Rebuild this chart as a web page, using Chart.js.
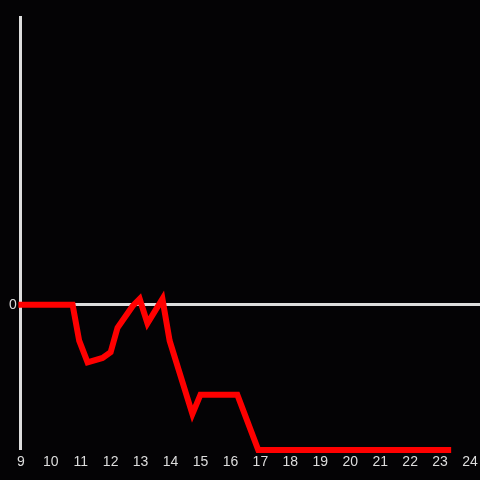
<!DOCTYPE html>
<html>
<head>
<meta charset="utf-8">
<script src="https://cdn.jsdelivr.net/npm/chart.js@4"></script>
<style>
html,body{margin:0;padding:0;background:#040305;}
#wrap{width:480px;height:480px;}
</style>
</head>
<body>
<div id="wrap"><canvas id="c" width="480" height="480"></canvas></div>
<script>
const xValues = [8.92, 10.73, 10.95, 11.23, 11.73, 12.0, 12.23, 12.73, 12.97, 13.23, 13.73, 13.97, 14.73, 15.0, 16.23, 16.93, 23.37];
const yValues = [0, 0, -0.25, -0.40, -0.37, -0.33, -0.16, -0.01, 0.04, -0.13, 0.04, -0.25, -0.76, -0.625, -0.625, -1.01, -1.01];
const xTickLabels = [9, 10, 11, 12, 13, 14, 15, 16, 17, 18, 19, 20, 21, 22, 23, 24];
const yTickLabels = [0];

const points = xValues.map((x, i) => ({x: x, y: yValues[i]}));

new Chart(document.getElementById('c'), {
  type: 'line',
  data: {
    datasets: [{
      data: points,
      borderColor: '#ff0000',
      borderWidth: 6,
      pointRadius: 0,
      tension: 0,
      fill: false,
      clip: false
    }]
  },
  options: {
    responsive: false,
    animation: false,
    layout: {padding: {top: 17, left: 5, right: 0, bottom: 5}},
    plugins: {legend: {display: false}, tooltip: {enabled: false}},
    scales: {
      x: {
        type: 'linear',
        min: 9,
        max: 24.333,
        afterBuildTicks: (s) => { s.ticks = xTickLabels.map(v => ({value: v})); },
        grid: {display: false, drawTicks: false},
        border: {display: false},
        ticks: {color: '#dddddd', font: {size: 14, lineHeight: 1.6}, padding: 2, autoSkip: false, maxRotation: 0}
      },
      y: {
        min: -1,
        max: 2,
        afterBuildTicks: (s) => { s.ticks = yTickLabels.map(v => ({value: v})); },
        grid: {color: '#dddddd', lineWidth: 3, drawTicks: false},
        border: {display: true, color: '#dddddd', width: 3},
        ticks: {color: '#dddddd', font: {size: 14}, padding: 4}
      }
    }
  }
});
</script>
</body>
</html>
